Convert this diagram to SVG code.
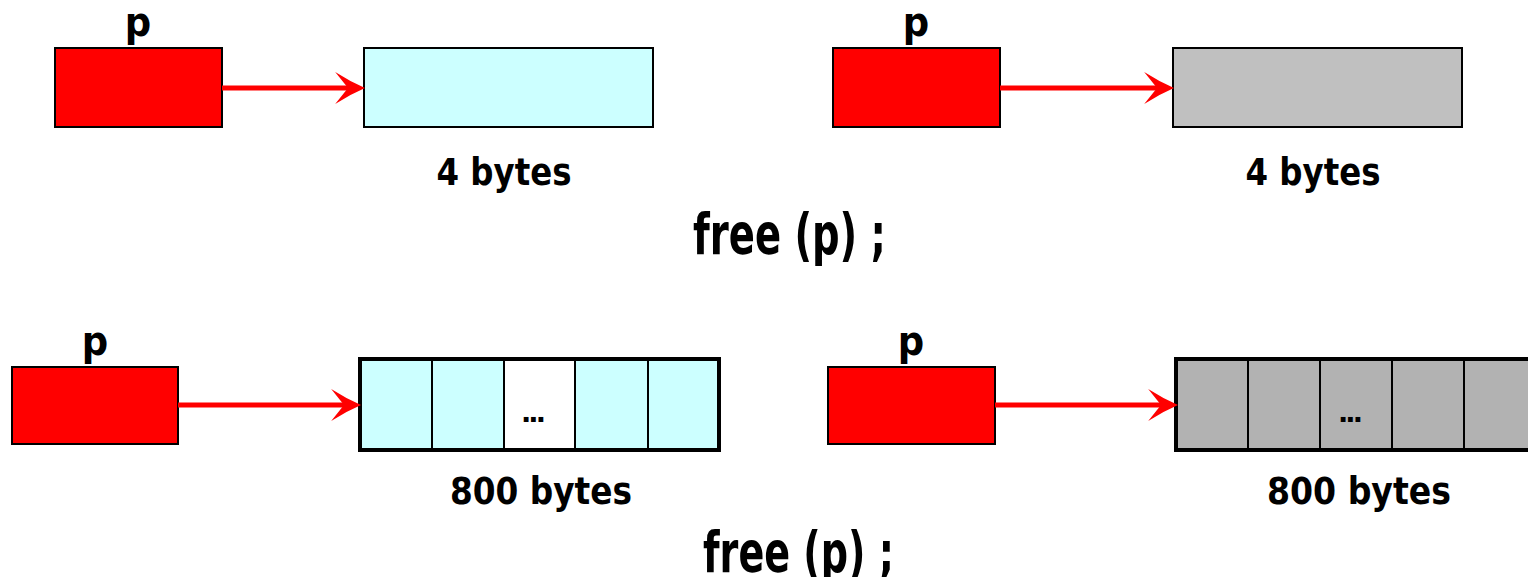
<svg xmlns="http://www.w3.org/2000/svg" width="1528" height="577" viewBox="0 0 1528 577">
  <style>
    .ptr { fill: #ff0000; stroke: #000000; stroke-width: 2; }
    .mem { stroke: #000000; stroke-width: 2; }
    .cyan { fill: #ccffff; }
    .gray1 { fill: #c0c0c0; }
    .gray2 { fill: #b2b2b2; }
    .arr { fill: none; stroke: #000000; stroke-width: 4; }
    .div { stroke: #000000; stroke-width: 2; }
    .link { stroke: #ff0000; stroke-width: 5; fill: none; marker-end: url(#head); }
    .lbl { font-family: "DejaVu Sans", "Liberation Sans", sans-serif; font-weight: bold; font-stretch: condensed; fill: #000000; text-anchor: middle; }
    .var { font-size: 41px; }
    .size { font-size: 37px; }
    .dots { font-family: "DejaVu Sans", "Liberation Sans", sans-serif; font-weight: bold; font-size: 27px; fill: #000000; }
    .code { font-family: "DejaVu Sans", "Liberation Sans", sans-serif; font-weight: bold; font-stretch: condensed; font-size: 57px; fill: #000000; }
  </style>
  <defs>
    <marker id="head" markerUnits="userSpaceOnUse" markerWidth="30" markerHeight="32" viewBox="0 0 28 30" refX="12" refY="15" orient="auto">
      <path d="M28,15 Q14,9 0,0 L12,15 L0,30 Q14,21 28,15 Z" fill="#ff0000"/>
    </marker>
  </defs>

  <!-- before free: single int -->
  <g id="ptr-a">
    <rect class="ptr" x="55" y="48" width="167" height="79"/>
    <text class="lbl var" x="138" y="36">p</text>
  </g>
  <g id="mem-a">
    <rect class="mem cyan" x="364" y="48" width="289" height="79"/>
    <text class="lbl size" x="504" y="185" textLength="135" lengthAdjust="spacingAndGlyphs">4 bytes</text>
  </g>

  <!-- after free: single int -->
  <g id="ptr-b">
    <rect class="ptr" x="833" y="48" width="167" height="79"/>
    <text class="lbl var" x="916" y="36">p</text>
  </g>
  <g id="mem-b">
    <rect class="mem gray1" x="1173" y="48" width="289" height="79"/>
    <text class="lbl size" x="1313" y="185" textLength="135" lengthAdjust="spacingAndGlyphs">4 bytes</text>
  </g>

  <g id="code-1">
    <text class="code" x="693" y="254" textLength="193" lengthAdjust="spacingAndGlyphs">free (p) ;</text>
  </g>

  <!-- before free: array -->
  <g id="ptr-c">
    <rect class="ptr" x="12" y="367" width="166" height="77"/>
    <text class="lbl var" x="95" y="355">p</text>
  </g>
  <g id="mem-c">
    <rect class="cyan" x="360" y="359" width="359" height="91"/>
    <rect fill="#ffffff" x="504" y="359" width="71" height="91"/>
    <line class="div" x1="432" y1="359" x2="432" y2="450"/>
    <line class="div" x1="504" y1="359" x2="504" y2="450"/>
    <line class="div" x1="575" y1="359" x2="575" y2="450"/>
    <line class="div" x1="648" y1="359" x2="648" y2="450"/>
    <rect class="arr" x="360" y="359" width="359" height="91"/>
    <text class="dots" x="521" y="422" textLength="25" lengthAdjust="spacing">...</text>
    <text class="lbl size" x="541" y="504" textLength="182" lengthAdjust="spacingAndGlyphs">800 bytes</text>
  </g>

  <!-- after free: array -->
  <g id="ptr-d">
    <rect class="ptr" x="828" y="367" width="167" height="77"/>
    <text class="lbl var" x="911" y="355">p</text>
  </g>
  <g id="mem-d">
    <rect class="gray2" x="1176" y="359" width="359" height="91"/>
    <line class="div" x1="1248" y1="359" x2="1248" y2="450"/>
    <line class="div" x1="1320" y1="359" x2="1320" y2="450"/>
    <line class="div" x1="1392" y1="359" x2="1392" y2="450"/>
    <line class="div" x1="1464" y1="359" x2="1464" y2="450"/>
    <rect class="arr" x="1176" y="359" width="359" height="91"/>
    <text class="dots" x="1338" y="422" textLength="25" lengthAdjust="spacing">...</text>
    <text class="lbl size" x="1359" y="504" textLength="184" lengthAdjust="spacingAndGlyphs">800 bytes</text>
  </g>

  <g id="code-2">
    <text class="code" x="703" y="572" textLength="191" lengthAdjust="spacingAndGlyphs">free (p) ;</text>
  </g>

  <!-- pointer connectors -->
  <g id="connectors">
    <line class="link" x1="222" y1="88" x2="348" y2="88"/>
    <line class="link" x1="1000" y1="88" x2="1157" y2="88"/>
    <line class="link" x1="178" y1="405" x2="344" y2="405"/>
    <line class="link" x1="995" y1="405" x2="1161" y2="405"/>
  </g>
</svg>
